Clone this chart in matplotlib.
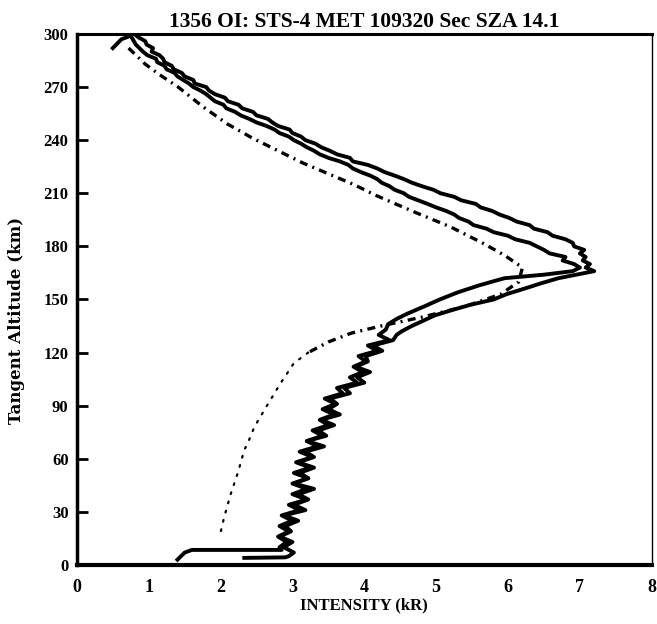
import matplotlib
matplotlib.use("Agg")
import matplotlib.pyplot as plt

# ---- data (intensity kR, tangent altitude km) ----
a_alt = [300, 298, 296, 294, 292, 290, 288, 286, 284, 282, 280, 278, 276, 274, 272, 270, 268, 266,
         264, 262, 260, 258, 256, 254, 252, 250, 248, 246, 244, 242, 240, 238, 236, 234, 232, 230,
         228, 226, 224, 222, 220, 218, 216, 214, 212, 210, 208, 206, 204, 202, 200, 198, 196, 194,
         192, 190, 188, 186, 184, 182, 180, 178, 176, 174, 172, 170, 168, 166, 164, 162, 159, 156,
         153, 150, 147, 144, 141, 138, 135, 132, 130, 127, 124, 121, 118, 115, 112, 109, 106, 103,
         100, 97, 94, 91, 88, 85, 82, 79, 76, 73, 70, 67, 64, 61, 58, 55, 52, 49, 46, 43, 40, 37,
         34, 31, 28, 25, 22, 19, 16, 13, 10, 7, 5, 4.3, 4.0]
a_int = [0.80, 0.86, 0.95, 0.97, 1.06, 1.04, 1.15, 1.20, 1.22, 1.32, 1.35, 1.46, 1.50, 1.62, 1.64,
         1.80, 1.84, 1.92, 2.06, 2.10, 2.25, 2.30, 2.45, 2.50, 2.66, 2.72, 2.80, 2.96, 3.00, 3.12,
         3.18, 3.32, 3.40, 3.52, 3.62, 3.80, 3.84, 4.05, 4.18, 4.28, 4.42, 4.55, 4.66, 4.80, 4.96,
         5.06, 5.25, 5.35, 5.55, 5.62, 5.78, 5.88, 6.02, 6.12, 6.30, 6.36, 6.55, 6.62, 6.80, 6.90,
         6.92, 7.06, 7.00, 7.08, 7.04, 7.14, 7.08, 7.20, 6.95, 6.70, 6.45, 6.22, 5.98, 5.80, 5.48,
         5.22, 4.98, 4.82, 4.66, 4.52, 4.45, 4.40, 4.12, 4.25, 4.02, 4.05, 3.88, 4.08, 3.90, 4.00,
         3.72, 3.80, 3.52, 3.62, 3.50, 3.66, 3.40, 3.58, 3.36, 3.47, 3.20, 3.44, 3.18, 3.30, 3.08,
         3.30, 3.10, 3.22, 3.02, 3.30, 3.08, 3.22, 3.02, 3.18, 2.88, 3.08, 2.90, 2.98, 2.82, 3.00,
         2.88, 3.02, 2.95, 2.90, 2.33]

b_alt = [292, 297, 299, 294, 290, 288, 286, 284, 282, 280, 278, 276, 274, 272, 270, 268, 266, 264,
         262, 260, 258, 256, 254, 252, 250, 248, 246, 244, 242, 240, 238, 236, 234, 232, 230, 228,
         226, 224, 222, 220, 218, 216, 214, 212, 210, 208, 206, 204, 202, 200, 198, 196, 194, 192,
         190, 188, 186, 184, 182, 180, 178, 176, 174, 172, 170, 168, 166, 164, 162, 158, 154, 150,
         146, 142, 139, 136, 133, 130, 127, 124, 121, 118, 115, 112, 109, 106, 103, 100, 97, 94,
         91, 88, 85, 82, 79, 76, 73, 70, 67, 64, 61, 58, 55, 52, 49, 46, 43, 40, 37, 34, 31, 28,
         25, 22, 19, 16, 13, 10, 8.5, 8.5, 7.0, 3.0]
b_int = [0.50, 0.62, 0.75, 0.82, 0.92, 0.98, 1.10, 1.12, 1.22, 1.25, 1.36, 1.40, 1.48, 1.56, 1.62,
         1.72, 1.80, 1.86, 1.92, 2.04, 2.08, 2.20, 2.28, 2.40, 2.50, 2.64, 2.75, 2.82, 2.95, 3.02,
         3.12, 3.20, 3.30, 3.38, 3.50, 3.66, 3.78, 3.84, 3.95, 4.08, 4.18, 4.24, 4.35, 4.42, 4.55,
         4.62, 4.75, 4.88, 5.00, 5.14, 5.25, 5.32, 5.45, 5.52, 5.70, 5.80, 6.00, 6.10, 6.30, 6.40,
         6.50, 6.58, 6.80, 6.76, 6.92, 7.00, 6.90, 6.50, 5.95, 5.60, 5.30, 5.05, 4.83, 4.60, 4.45,
         4.33, 4.30, 4.20, 4.35, 4.05, 4.18, 3.92, 4.02, 3.85, 3.98, 3.80, 3.90, 3.62, 3.70, 3.45,
         3.60, 3.42, 3.58, 3.38, 3.50, 3.28, 3.42, 3.20, 3.35, 3.10, 3.28, 3.05, 3.25, 3.02, 3.22,
         3.00, 3.20, 3.00, 3.20, 2.95, 3.10, 2.85, 3.00, 2.82, 2.95, 2.80, 2.92, 2.82, 2.85, 1.60,
         1.50, 1.40]

model_alt = [292, 287, 283, 277, 270, 259, 249, 241, 234, 227, 221, 215, 209, 199, 191, 182, 175,
             168, 160, 153, 146, 140, 135, 131, 126, 120]
model_int = [0.72, 0.85, 0.95, 1.15, 1.41, 1.75, 2.10, 2.45, 2.80, 3.15, 3.50, 3.85, 4.15, 4.72,
             5.20, 5.64, 5.95, 6.20, 6.15, 5.90, 5.40, 4.80, 4.23, 3.82, 3.50, 3.22]

low_alt = [120, 114, 103, 91, 78, 69, 65, 52, 40, 27, 15]
low_int = [3.22, 3.02, 2.84, 2.66, 2.47, 2.38, 2.33, 2.24, 2.14, 2.05, 1.98]

x_ticks = [0, 1, 2, 3, 4, 5, 6, 7, 8]
y_ticks = [0, 30, 60, 90, 120, 150, 180, 210, 240, 270, 300]

title = "1356 OI: STS-4 MET 109320 Sec SZA 14.1"
xlabel = "INTENSITY (kR)"
ylabel = "Tangent Altitude (km)"

# ---- figure ----
serif = ["Liberation Serif", "DejaVu Serif"]
fig = plt.figure(figsize=(6.57, 6.24), dpi=100)
ax = fig.add_axes([0.117, 0.0946, 0.875, 0.851])

ax.plot(a_int, a_alt, color="black", lw=2.8, solid_joinstyle="round")
ax.plot(b_int, b_alt, color="black", lw=2.8, solid_joinstyle="round")
ax.plot(model_int, model_alt, color="black", lw=2.4, dashes=(2.4, 1.6, 0.6, 1.6))
ax.plot(low_int, low_alt, color="black", lw=1.6, dashes=(0.8, 3.5), dash_capstyle="round")

ax.set_xlim(0, 8)
ax.set_ylim(0, 300)
ax.set_xticks(x_ticks)
ax.set_yticks(y_ticks)
ax.set_xticklabels([str(v) for v in x_ticks], fontfamily=serif, fontweight="bold", fontsize=13)
ax.set_yticklabels([str(v) for v in y_ticks], fontfamily=serif, fontweight="bold", fontsize=12)
ax.tick_params(axis="y", direction="in", length=8, width=2, pad=6)
ax.tick_params(axis="x", direction="in", length=0, pad=10)

for side, lw in [("left", 2.5), ("bottom", 3.0), ("top", 2.2), ("right", 1.0)]:
    ax.spines[side].set_linewidth(lw)
    ax.spines[side].set_color("black")

ax.set_title(title, fontfamily=serif, fontsize=15.5, fontweight="bold", pad=5)
ax.set_xlabel(xlabel, fontfamily=serif, fontsize=12, fontweight="bold", labelpad=1)
ax.set_ylabel(ylabel, fontfamily=["DejaVu Serif"], fontsize=12, fontweight="bold")
ax.yaxis.set_label_coords(-0.09, 0.46)

fig.savefig("out.png", dpi=100)
